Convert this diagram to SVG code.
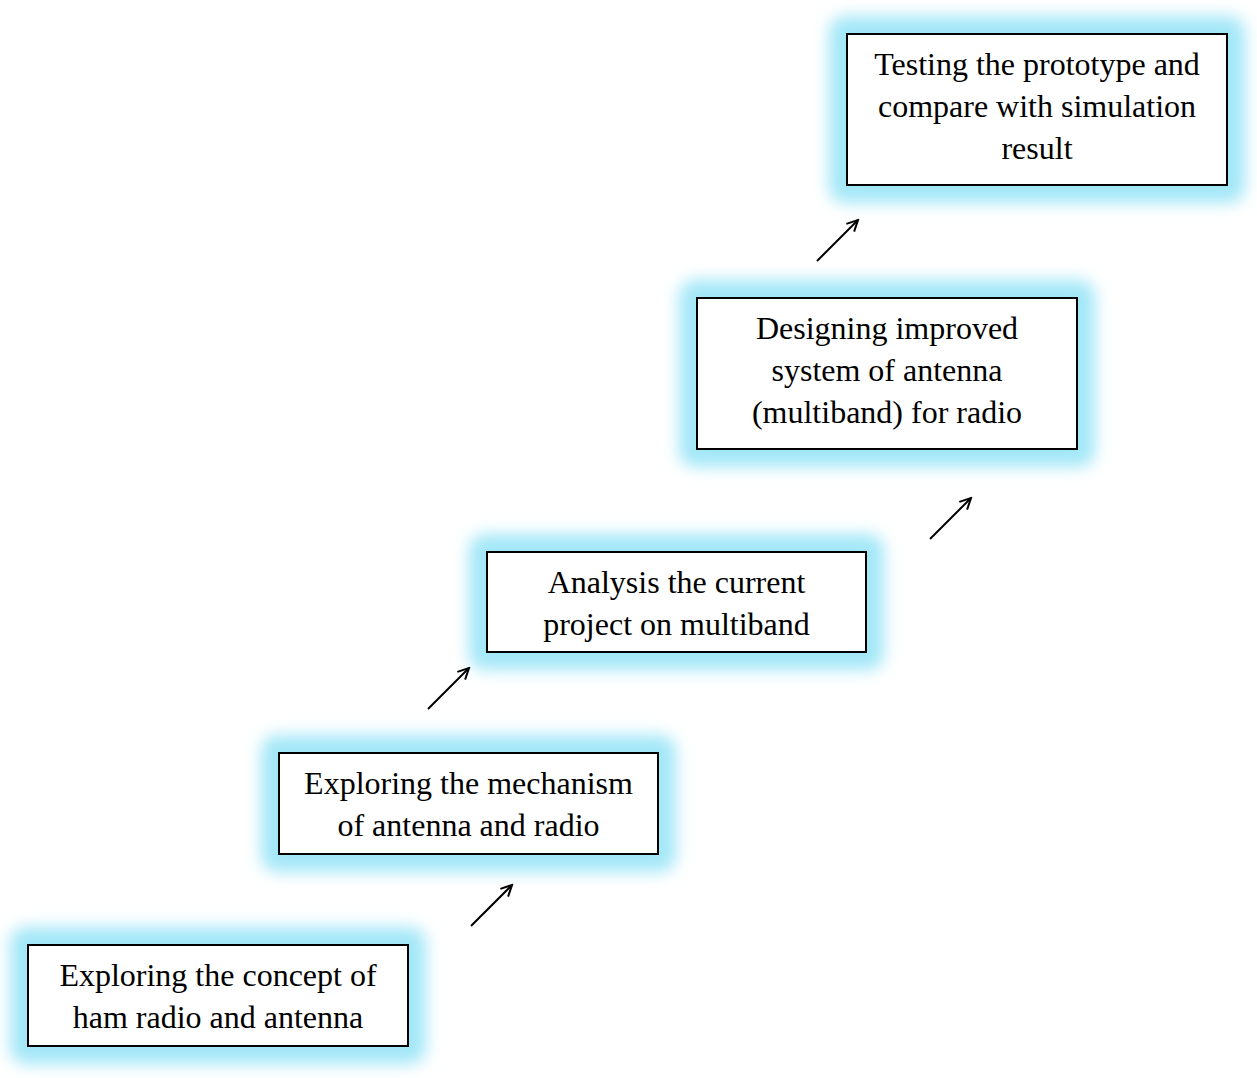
<svg xmlns="http://www.w3.org/2000/svg" width="1257" height="1078" viewBox="0 0 1257 1078">
<style>
.box{fill:#fff;stroke:#000;stroke-width:2}
.glow{fill:#a3e7f8;filter:url(#blur)}
.t{font-family:"Liberation Serif","Times New Roman",serif;font-size:32px;fill:#000;text-anchor:middle}
.arr{stroke:#000;stroke-width:2;fill:none;marker-end:url(#ah)}
</style>
<defs>
<filter id="blur" x="-20%" y="-40%" width="140%" height="180%"><feGaussianBlur stdDeviation="8"/></filter>
<marker id="ah" viewBox="0 0 14 14" refX="12" refY="7" markerWidth="14" markerHeight="14" markerUnits="userSpaceOnUse" orient="auto"><path d="M1,1.5 L12,7 L1,12.5" fill="none" stroke="#000" stroke-width="2"/></marker>
</defs>
<g id="n5">
<rect class="glow" x="10" y="927" width="416" height="137" rx="16"/>
<rect class="box" x="28" y="945" width="380" height="101"/>
<text class="t" x="218" y="986">Exploring the concept of</text>
<text class="t" x="218" y="1028">ham radio and antenna</text>
</g>
<g id="n4">
<rect class="glow" x="261" y="735" width="415" height="137" rx="16"/>
<rect class="box" x="279" y="753" width="379" height="101"/>
<text class="t" x="468.5" y="794">Exploring the mechanism</text>
<text class="t" x="468.5" y="836">of antenna and radio</text>
</g>
<g id="n3">
<rect class="glow" x="469" y="534" width="415" height="136" rx="16"/>
<rect class="box" x="487" y="552" width="379" height="100"/>
<text class="t" x="676.5" y="593">Analysis the current</text>
<text class="t" x="676.5" y="635">project on multiband</text>
</g>
<g id="n2">
<rect class="glow" x="679" y="280" width="416" height="187" rx="16"/>
<rect class="box" x="697" y="298" width="380" height="151"/>
<text class="t" x="887" y="339">Designing improved</text>
<text class="t" x="887" y="381">system of antenna</text>
<text class="t" x="887" y="423">(multiband) for radio</text>
</g>
<g id="n1">
<rect class="glow" x="829" y="16" width="416" height="187" rx="16"/>
<rect class="box" x="847" y="34" width="380" height="151"/>
<text class="t" x="1037" y="75">Testing the prototype and</text>
<text class="t" x="1037" y="117">compare with simulation</text>
<text class="t" x="1037" y="159">result</text>
</g>
<g id="connectors">
<line class="arr" x1="471" y1="926" x2="512" y2="885"/>
<line class="arr" x1="428" y1="709" x2="469" y2="668"/>
<line class="arr" x1="930" y1="539" x2="971" y2="498"/>
<line class="arr" x1="817" y1="261" x2="858" y2="220"/>
</g>
</svg>
